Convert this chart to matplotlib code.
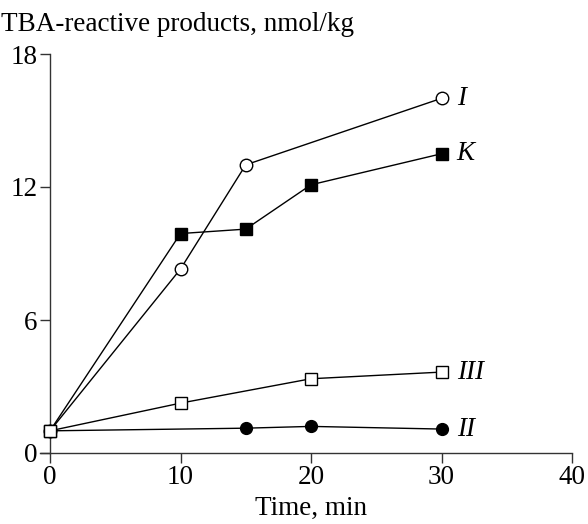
import matplotlib

matplotlib.use("Agg")
import matplotlib.pyplot as plt

plt.rcParams["font.family"] = ["Liberation Serif", "DejaVu Serif"]

# series: time (min) and TBA-reactive products (nmol/kg)
t_I = [0, 10, 15, 30]
y_I = [1.0, 8.3, 13.0, 16.0]
t_K = [0, 10, 15, 20, 30]
y_K = [1.0, 9.9, 10.1, 12.1, 13.5]
t_III = [0, 10, 20, 30]
y_III = [1.0, 2.25, 3.35, 3.65]
t_II = [0, 15, 20, 30]
y_II = [1.0, 1.12, 1.2, 1.08]
names = ["I", "K", "III", "II"]
xticks = [0, 10, 20, 30, 40]
yticks = [0, 6, 12, 18]

FS = 19.5

fig = plt.figure(figsize=(5.88, 5.24), dpi=100)
ax = fig.add_axes([50 / 588, 71 / 524, 522 / 588, 399 / 524])

lw = 1.0
ms = 8.5
ax.plot(t_II, y_II, "-o", color="black", lw=lw, ms=ms, mfc="black", mec="black",
        zorder=3, clip_on=False)
ax.plot(t_III, y_III, "-s", color="black", lw=lw, ms=ms, mfc="white", mec="black",
        mew=1.0, zorder=5, clip_on=False)
ax.plot(t_K, y_K, "-s", color="black", lw=lw, ms=ms, mfc="black", mec="black",
        zorder=4, clip_on=False)
ax.plot(t_I, y_I, "-o", color="black", lw=lw, ms=ms + 0.5, mfc="white", mec="black",
        mew=1.0, zorder=4, clip_on=False)

for name, tt, yy in zip(names, [t_I, t_K, t_III, t_II], [y_I, y_K, y_III, y_II]):
    ax.annotate(name, (tt[-1], yy[-1]), xytext=(11, 0), textcoords="offset points",
                ha="left", va="center", fontsize=FS, style="italic")

ax.set_xlim(0, 40)
ax.set_ylim(0, 18)
ax.set_xticks(xticks)
ax.set_yticks(yticks)
for s in ("top", "right"):
    ax.spines[s].set_visible(False)
for s in ("left", "bottom"):
    ax.spines[s].set_linewidth(1.0)
    ax.spines[s].set_color("#333333")
ax.spines["bottom"].set_bounds(-0.75, 40)
ax.tick_params(direction="out", length=7, width=1.0, color="#333333", labelsize=FS, pad=2)
ax.set_xlabel("Time, min", fontsize=FS, labelpad=4)
fig.text(1 / 588, 1 - 31 / 524, "TBA-reactive products, nmol/kg", fontsize=FS,
         ha="left", va="baseline")

fig.savefig("out.png", dpi=100)
